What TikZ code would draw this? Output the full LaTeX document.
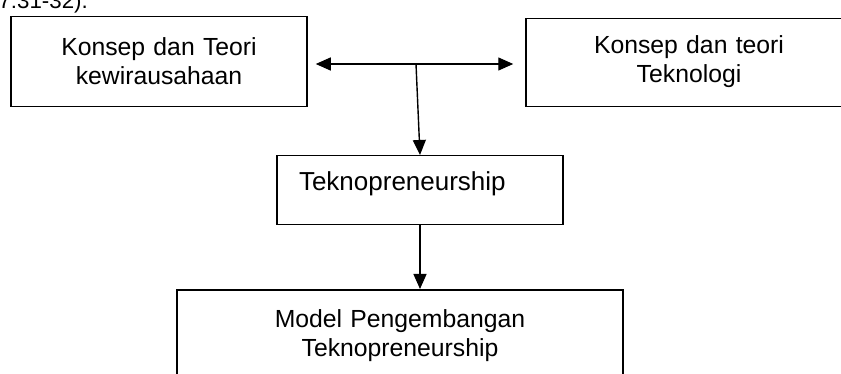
\documentclass[tikz,border=0pt]{standalone}
\usepackage{fontspec}
\setmainfont{Liberation Sans}
\usetikzlibrary{arrows.meta}
\begin{document}
\begin{tikzpicture}[x=1pt,y=-1pt,
    font=\fontsize{24.75}{29}\selectfont,
    >={Triangle[length=15pt,width=13pt]},
    box/.style={draw,line width=1.5pt,anchor=north,inner xsep=0pt,inner ysep=0pt,align=center},
    arr/.style={line width=1.4pt}]
  \useasboundingbox (0,0) rectangle (841,374);
  \node[anchor=base east,inner sep=0pt,font=\fontsize{22.3}{26}\selectfont] (cite) at (88,9) {7:31-32).};
  \node[box,text width=296pt,text height=39pt,text depth=51pt] (kwu) at (159,16)
    {Konsep dan Teori\\kewirausahaan};
  \node[box,text width=326pt,text height=35pt,text depth=53pt] (tek) at (689,18)
    {Konsep dan teori\\Teknologi};
  \node[box,align=left,font=\fontsize{26}{31}\selectfont,inner xsep=22pt,text width=242pt,
    text height=35pt,text depth=34pt] (tp) at (420,155)
    {Teknopreneurship};
  \node[box,text width=446pt,text height=38pt,text depth=120pt] (model) at (400,289)
    {Model Pengembangan\\Teknopreneurship};
  \coordinate (jm) at (416,64);
  \begin{scope}[arr]
    \draw[<->,shorten <=8pt,shorten >=12pt] (kwu.east |- jm) -- (tek.west |- jm);
    \draw[->] (jm) -- (tp.north);
    \draw[->] (tp.south) -- (tp.south |- model.north);
  \end{scope}
\end{tikzpicture}
\end{document}
